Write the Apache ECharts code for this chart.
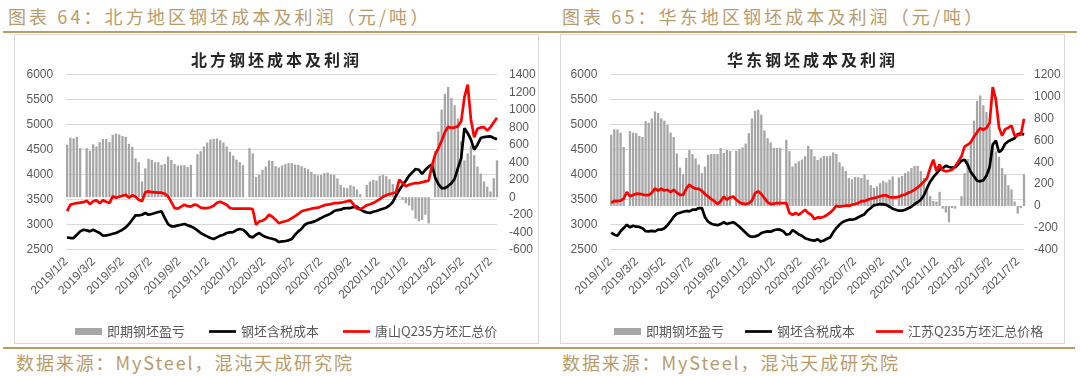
<!DOCTYPE html>
<html>
<head>
<meta charset="utf-8">
<script src="https://cdn.jsdelivr.net/npm/echarts@6/dist/echarts.min.js"></script>
<style>
  body { margin: 0; background: #fff; overflow: hidden; }
  #page { position: relative; width: 1080px; height: 376px; font-family: "Noto Sans CJK SC", sans-serif; }
  .frame { position: absolute; border: 1px solid #d9d9d9; box-sizing: border-box; }
  .gold { position: absolute; height: 2px; background: #bb9b66; }
  .head, .foot { position: absolute; color: #b99b6b; font-size: 18px; letter-spacing: 3.1px; white-space: nowrap; line-height: 20px; }
  .foot { letter-spacing: 1.9px; }
  .title { position: absolute; text-align: center; font-size: 16px; font-weight: bold; letter-spacing: 3px; color: #262626; line-height: 20px; }
  #chart { position: absolute; left: 0; top: 0; width: 1080px; height: 376px; }
</style>
</head>
<body>
<div id="page">
  <div class="gold" style="left:3px;top:31px;width:1074px;"></div>
  <div class="frame" style="left:14px;top:34px;width:525px;height:310px;"></div>
  <div class="frame" style="left:560px;top:34px;width:505px;height:310px;"></div>
  <div class="gold" style="left:3px;top:347px;width:1072px;"></div>
  <div class="head" style="left:8px;top:6px;">图表 64：北方地区钢坯成本及利润（元/吨）</div>
  <div class="head" style="left:562px;top:6px;">图表 65：华东地区钢坯成本及利润（元/吨）</div>
  <div class="foot" style="left:16px;top:352px;">数据来源：MySteel，混沌天成研究院</div>
  <div class="foot" style="left:562px;top:352px;">数据来源：MySteel，混沌天成研究院</div>
  <div id="chart"></div>
  <div class="title" style="left:14px;width:525px;top:49px;">北方钢坯成本及利润</div>
  <div class="title" style="left:560px;width:505px;top:49px;">华东钢坯成本及利润</div>
</div>
<script>
// 周度数据，从 2019/1/4 起每周一个点
var firstWeek = [2019, 0, 4];

var tickLabels = ['2019/1/2', '2019/3/2', '2019/5/2', '2019/7/2', '2019/9/2', '2019/11/2',
    '2020/1/2', '2020/3/2', '2020/5/2', '2020/7/2', '2020/9/2', '2020/11/2',
    '2021/1/2', '2021/3/2', '2021/5/2', '2021/7/2'];

// 北方：即期钢坯盈亏 / 钢坯含税成本 / 唐山Q235方坯汇总价
var northProfit = [600,680,672,690,560,null,560,530,605,580,
    630,665,665,630,713,728,718,700,690,610,
    575,445,400,180,330,440,427,400,400,
    370,380,465,425,380,362,365,365,345,370,
    null,490,525,580,625,660,668,672,650,625,
    580,520,475,430,400,365,null,560,500,
    230,256,313,350,420,415,355,340,362,378,
    389,389,372,370,355,335,318,290,263,250,
    255,275,280,260,255,215,141,111,103,
    138,125,88,35,null,140,179,198,190,245,
    256,240,205,150,70,10,-30,-70,-95,-150,
    -245,-275,-260,-200,-300,null,530,750,1000,
    1180,1260,1133,1050,900,640,420,500,590,480,
    350,270,180,120,65,217,420];
var northCost = [2747,2733,2733,2800,2867,2900,2887,2867,2900,2867,
    2833,2780,2787,2800,2820,2833,2867,2900,2947,3013,
    3100,3187,3187,3200,3233,3200,3213,3233,3253,
    3267,3133,3013,2967,2967,2987,3000,3013,2987,2967,
    2933,2887,2833,2800,2767,2733,2713,2747,2780,2800,
    2833,2847,2853,2893,2913,2900,2847,2767,2747,
    2800,2833,2787,2753,2733,2720,2700,2653,2667,2673,
    2687,2713,2800,2867,2920,3000,3033,3047,3067,3100,
    3133,3167,3193,3227,3273,3293,3300,3327,3333,
    3333,3353,3360,3307,3267,3247,3233,3260,3273,3300,
    3320,3340,3387,3453,3580,3693,3787,3880,3980,4047,
    4113,4100,4013,4100,4160,4200,3947,3813,3733,
    3733,3773,3827,3920,4133,4333,4930,4830,4700,4500,
    4600,4733,4753,4760,4767,4733,4707];
var northPrice = [3270,3400,3420,3433,3440,3450,3480,3410,3467,3490,
    3430,3490,3460,3433,3567,3540,3560,3580,3600,3540,
    3590,3560,3500,3470,3650,3667,3650,3645,3640,
    3640,3620,3567,3450,3330,3320,3360,3400,3370,3360,
    3400,3390,3340,3330,3333,3350,3380,3440,3460,3430,
    3400,3333,3320,3320,3320,3320,3320,3320,3310,
    3000,3067,3080,3120,3200,3160,3100,3030,3053,3070,
    3090,3130,3170,3215,3270,3290,3305,3320,3330,3340,
    3365,3390,3400,3410,3433,3433,3440,3453,3470,
    3480,3400,3320,3310,3347,3390,3410,3433,3470,3510,
    3560,3590,3613,3630,3650,3900,3833,3767,3800,3820,
    3833,3833,3850,3867,3880,4170,4400,4530,4680,
    4850,4960,4935,4947,4967,5067,5550,5800,5100,4750,
    4920,4945,4950,4880,4950,5050,5140];

// 华东：即期钢坯盈亏 / 钢坯含税成本 / 江苏Q235方坯汇总价格
var eastProfit = [651,700,700,670,540,null,685,670,666,640,
    630,775,760,800,864,850,800,780,740,670,
    630,480,350,290,440,512,474,435,380,
    300,360,468,474,475,475,529,484,512,502,
    null,505,522,535,570,666,800,870,880,834,
    690,620,580,532,530,529,null,605,500,
    360,390,408,425,455,550,520,455,420,440,
    458,455,460,490,475,400,360,320,255,245,
    265,262,255,290,240,190,164,179,209,
    230,215,240,270,null,260,275,300,316,346,
    365,365,320,255,160,90,45,40,130,-25,
    -60,-150,-20,-25,null,90,300,430,600,
    780,960,1010,920,860,730,540,500,450,346,
    286,190,150,41,-70,-20,290];
var eastCost = [2840,2800,2780,2870,2933,3000,2947,2980,2960,2955,
    2930,2870,2865,2875,2867,2900,2900,2930,2990,3070,
    3160,3220,3240,3260,3275,3267,3300,3300,3333,
    3333,3150,3060,3020,3000,2990,3013,3050,3013,3035,
    3050,3010,2960,2900,2840,2780,2755,2767,2787,2833,
    2853,2865,2860,2890,2905,2900,2870,2800,2813,
    2890,2850,2805,2780,2730,2710,2690,2680,2710,2662,
    2685,2720,2745,2850,2935,3000,3053,3078,3100,3100,
    3115,3150,3180,3210,3285,3333,3387,3400,3413,
    3405,3395,3360,3320,3300,3280,3280,3300,3330,3360,
    3410,3450,3500,3590,3730,3860,3950,4020,4100,4130,
    4180,4155,4140,4150,4210,4280,4300,4200,4050,
    3970,3880,3867,3890,3980,4150,4600,4680,4450,4500,
    4620,4670,4700,4730,4810,4830,4800];
var eastPrice = [3440,3475,3470,3480,3520,3653,3570,3595,3620,3615,
    3605,3590,3590,3640,3725,3680,3720,3685,3700,3650,
    3700,3640,3595,3595,3720,3800,3750,3720,3715,
    3675,3613,3567,3510,3470,3413,3470,3560,3500,3545,
    3565,3500,3450,3420,3413,3430,3480,3630,3667,3613,
    3530,3450,3410,3420,3433,3433,3433,3433,3233,
    3200,3233,3200,3250,3300,3233,3200,3110,3147,3140,
    3160,3195,3240,3300,3380,3360,3370,3385,3375,3400,
    3413,3433,3470,3470,3500,3520,3533,3550,3570,
    3587,3585,3550,3547,3547,3560,3590,3605,3640,3660,
    3700,3747,3800,3867,3930,4133,4300,4070,4200,4090,
    4067,4080,4100,4167,4267,4367,4560,4600,4650,
    4760,4850,4930,4900,4935,5033,5750,5500,4950,4780,
    4910,4940,4980,4780,4790,4800,5120];

var weeks = [];
for (var i = 0; i < northPrice.length; i++) {
    weeks.push(new Date(firstWeek[0], firstWeek[1], firstWeek[2] + 7 * i).getTime());
}
function toTime(s) {
    var p = s.split('/');
    return new Date(+p[0], +p[1] - 1, +p[2]).getTime();
}
function pairs(vals) {
    return vals.map(function (v, k) { return [weeks[k], v]; });
}
var tickValues = tickLabels.map(toTime);
var xMin = toTime('2019/1/2');
var xMax = weeks[weeks.length - 1];

var axisFont = {fontSize: 12, color: '#595959', fontFamily: 'Liberation Sans, Arial, sans-serif'};
var grey = '#a6a6a6';
var lineIcon = 'path://M0,0H30V3H0Z';

function plain(v) { return String(v); }

// 日期轴用数值轴承载时间戳，标签只放在 tickLabels 的位置
function xAxisOf(idx) {
    return {
        type: 'value', gridIndex: idx, min: xMin, max: xMax, scale: true,
        axisLine: {show: false}, axisTick: {show: false}, splitLine: {show: false},
        axisLabel: Object.assign({
            rotate: 45, margin: 10, hideOverlap: false,
            customValues: tickValues,
            formatter: function (v) {
                var d = new Date(v);
                return d.getFullYear() + '/' + (d.getMonth() + 1) + '/' + d.getDate();
            }
        }, axisFont)
    };
}
function leftAxis(idx) {
    return {
        type: 'value', gridIndex: idx, position: 'left', min: 2500, max: 6000, interval: 500,
        axisLine: {show: false}, axisTick: {show: false},
        splitLine: {lineStyle: {color: '#d9d9d9', width: 1}},
        axisLabel: Object.assign({margin: 13, formatter: plain}, axisFont)
    };
}
function rightAxis(idx, lo, hi, m) {
    return {
        type: 'value', gridIndex: idx, position: 'right', min: lo, max: hi, interval: 200,
        axisLine: {show: false}, axisTick: {show: false}, splitLine: {show: false},
        axisLabel: Object.assign({margin: m, formatter: plain}, axisFont)
    };
}
function seriesOf(idx, profit, cost, price, priceName) {
    return [
        {type: 'bar', name: '即期钢坯盈亏', xAxisIndex: idx, yAxisIndex: idx * 2 + 1,
            data: pairs(profit), barWidth: 2.3, itemStyle: {color: grey}},
        {type: 'line', name: '钢坯含税成本', xAxisIndex: idx, yAxisIndex: idx * 2,
            data: pairs(cost), symbol: 'none', lineStyle: {color: '#000', width: 2.7}, itemStyle: {color: '#000'}},
        {type: 'line', name: priceName, xAxisIndex: idx, yAxisIndex: idx * 2,
            data: pairs(price), symbol: 'none', lineStyle: {color: '#ff0000', width: 2.7}, itemStyle: {color: '#ff0000'}}
    ];
}
function legendOf(left, gap, last) {
    return {
        left: left, top: 320, itemWidth: 27, itemHeight: 7, itemGap: gap,
        textStyle: {fontSize: 13, color: '#595959', fontFamily: 'Noto Sans CJK SC'},
        data: [
            {name: '即期钢坯盈亏', icon: 'rect'},
            {name: '钢坯含税成本', icon: lineIcon},
            {name: last, icon: lineIcon}
        ]
    };
}

var myChart = echarts.init(document.getElementById('chart'));
myChart.setOption({
    animation: false,
    grid: [
        {left: 66.2, right: 583, top: 74.7, bottom: 126.3},
        {left: 610.3, right: 56, top: 74.7, bottom: 126.3}
    ],
    xAxis: [xAxisOf(0), xAxisOf(1)],
    yAxis: [leftAxis(0), rightAxis(0, -600, 1400, 12), leftAxis(1), rightAxis(1, -400, 1200, 10)],
    legend: [legendOf(70, 24, '唐山Q235方坯汇总价'), legendOf(609, 21, '江苏Q235方坯汇总价格')],
    series: seriesOf(0, northProfit, northCost, northPrice, '唐山Q235方坯汇总价')
        .concat(seriesOf(1, eastProfit, eastCost, eastPrice, '江苏Q235方坯汇总价格'))
});
</script>
</body>
</html>
